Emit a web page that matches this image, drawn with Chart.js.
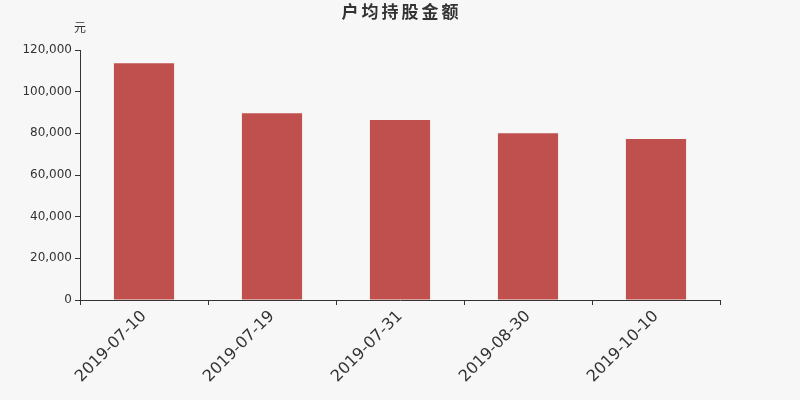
<!DOCTYPE html>
<html>
<head>
<meta charset="utf-8">
<script src="https://cdn.jsdelivr.net/npm/chart.js@4"></script>
<style>
  html, body { margin: 0; padding: 0; background: #f7f7f7; }
  #wrap { width: 800px; height: 400px; }
</style>
</head>
<body>
<div id="wrap"><canvas id="holdChart"></canvas></div>
<script>
var titleText = '户均持股金额';
var unitText = '元';
var dates = ['2019-07-10', '2019-07-19', '2019-07-31', '2019-08-30', '2019-10-10'];
var amounts = [113600, 89600, 86400, 80000, 77300];

var FONT = '"DejaVu Sans", "Noto Sans CJK SC", sans-serif';
var TEXT = '#333';

// title and unit label drawn on top of the canvas
var textPlugin = {
    id: 'texts',
    afterDraw: function (chart) {
        var ctx = chart.ctx;
        var y = chart.scales.y;
        ctx.save();
        ctx.fillStyle = TEXT;
        ctx.textAlign = 'center';
        ctx.textBaseline = 'middle';
        ctx.font = 'bold 17px ' + FONT;
        ctx.letterSpacing = '3px';
        ctx.fillText(titleText, chart.width / 2 + 1.5, 14);
        ctx.letterSpacing = '0px';
        ctx.font = '12px ' + FONT;
        ctx.fillText(unitText, y.right, 29);
        ctx.restore();
    }
};

var bgPlugin = {
    id: 'bg',
    beforeDraw: function (chart) {
        var ctx = chart.ctx;
        ctx.save();
        ctx.fillStyle = '#f7f7f7';
        ctx.fillRect(0, 0, chart.width, chart.height);
        ctx.restore();
    }
};

function renderChart() {
    var ctx = document.getElementById('holdChart').getContext('2d');
    new Chart(ctx, {
        type: 'bar',
        data: {
            labels: dates,
            datasets: [{
                label: titleText,
                data: amounts,
                backgroundColor: '#c0504d',
                borderWidth: 0,
                barPercentage: 0.94,
                categoryPercentage: 0.5,
            }],
        },
        options: {
            responsive: true,
            maintainAspectRatio: false,
            animation: false,
            layout: { padding: { left: 0, right: 80, top: 50, bottom: 0 } },
            plugins: {
                legend: { display: false },
                title: { display: false },
                tooltip: { enabled: false },
            },
            scales: {
                x: {
                    afterFit: function (scale) { scale.height = 100; },
                    grid: { offset: true, drawOnChartArea: false, color: TEXT, tickLength: 5, tickWidth: 1 },
                    border: { color: TEXT, width: 1 },
                    ticks: {
                        color: TEXT,
                        font: { family: FONT, size: 16 },
                        minRotation: 45,
                        maxRotation: 45,
                        padding: 2,
                        autoSkip: false,
                    },
                },
                y: {
                    min: 0,
                    max: 120000,
                    afterFit: function (scale) { scale.width = 80; },
                    grid: { drawOnChartArea: false, color: TEXT, tickLength: 5, tickWidth: 1 },
                    border: { color: TEXT, width: 1 },
                    ticks: {
                        stepSize: 20000,
                        color: TEXT,
                        font: { family: FONT, size: 12 },
                        padding: 3,
                        callback: function (v) { return v.toLocaleString('en-US'); },
                    },
                },
            },
        },
        plugins: [bgPlugin, textPlugin],
    });
}

renderChart();
</script>
</body>
</html>
